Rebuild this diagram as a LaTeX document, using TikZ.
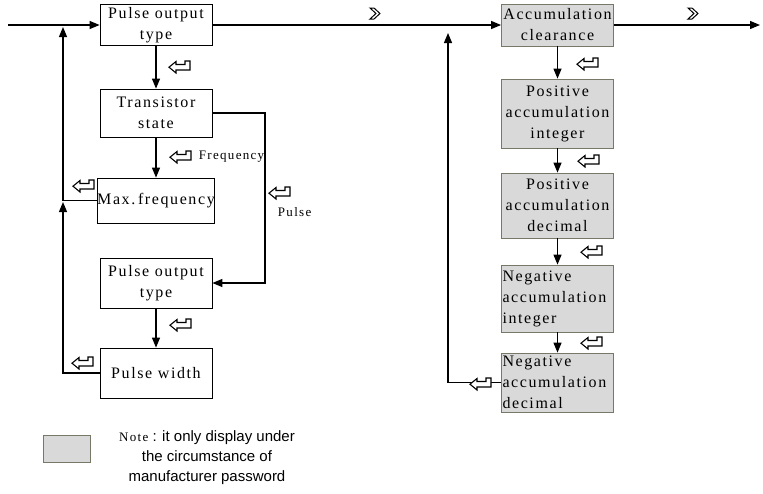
\documentclass[tikz,border=0pt]{standalone}
\usepackage{fontspec}
\setmainfont{Liberation Sans}
\newfontfamily\boxfont[LetterSpace=10]{Liberation Serif}
\usetikzlibrary{arrows.meta}

\definecolor{shade}{RGB}{217,217,217}
\definecolor{rim}{RGB}{120,120,105}

\tikzset{
  box/.style={draw, line width=0.8pt, minimum width=112pt, inner sep=1pt,
    align=center, font=\boxfont\fontsize{16}{21}\selectfont},
  gbox/.style={box, fill=shade, draw=rim},
  tag/.style={font=\boxfont\fontsize{13}{14}\selectfont},
  ret/.pic={\draw[line width=1.1pt, fill=white] (0,6.2) -- (7,0.5) -- (7,3.5) -- (16,3.5)
    -- (16,0) -- (21,0) -- (21,9) -- (7,9) -- (7,12) -- cycle;},
  nxt/.pic={\draw[line width=1pt, fill=white] (0,0) -- (4,0) -- (10,5.5) -- (4,11)
    -- (0,11) -- (6,5.5) -- cycle;}
}

\begin{document}
\begin{tikzpicture}[x=1pt, y=-1pt, line width=1.2pt, >={Triangle[length=10pt,width=8pt]}]
  \useasboundingbox (0,0) rectangle (763,493);

  % left column
  \node (pot1) [box, minimum height=41pt] at (156,25) {Pulse output\\type};
  \node (ts) [box, minimum height=48pt] at (156,113) {Transistor\\state};
  \node (mf) [box, minimum height=45pt, inner sep=0pt] at (156,200.5) {Max.\,frequency};
  \node (pot2) [box, minimum height=50pt] at (156,283) {Pulse output\\type};
  \node (pw) [box, minimum height=50pt] at (156,373) {Pulse width};

  % right column
  \node (acc) [gbox, minimum height=42pt] at (557.5,25) {Accumulation\\clearance};
  \node (pai) [gbox, minimum height=69pt] at (557.5,113.5) {Positive\\accumulation\\integer};
  \node (pad) [gbox, minimum height=65pt] at (557.5,205.5) {Positive\\accumulation\\decimal};
  \node (nai) [gbox, minimum height=67pt, align=left, text width=110pt] at (557.5,298.5) {Negative\\accumulation\\integer};
  \node (nad) [gbox, minimum height=59pt, align=left, text width=110pt] at (557.5,382.5) {Negative\\accumulation\\decimal};

  \coordinate (in) at (8,25);
  \coordinate (out) at (760,25);
  \coordinate (fb1) at (63,27);
  \coordinate (fb2) at (63,202);
  \coordinate (fb3) at (448,33);
  \coordinate (tsr) at (265,113);

  \draw[->] (in) -- (pot1);
  \draw[->] (pot1) -- (ts);
  \draw[->] (ts) -- (mf);
  \draw[->] (pot2) -- (pw);
  \draw[->] (ts.east) -- (tsr) |- (pot2.east);
  \draw[->] (mf.west) -| (fb1);
  \draw[->] (pw.west) -| (fb2);
  \draw[->] (pot1) -- (acc);
  \draw[->] (acc) -- (out);
  \draw[->] (acc) -- (pai);
  \draw[->] (pai) -- (pad);
  \draw[->] (pad) -- (nai);
  \draw[->] (nai) -- (nad);
  \draw[->] (nad.west) -| (fb3);

  % key symbols
  \pic at (169,61) {ret};
  \pic at (170,151) {ret};
  \pic at (73,180) {ret};
  \pic at (269,187) {ret};
  \pic at (170,319) {ret};
  \pic at (72,357) {ret};
  \pic at (577,58) {ret};
  \pic at (578,155) {ret};
  \pic at (581,246) {ret};
  \pic at (581,337) {ret};
  \pic at (470,378) {ret};
  \pic at (370,8) {nxt};
  \pic at (688,8) {nxt};

  \node (fq) [tag, anchor=west] at (195,157) {Frequency};
  \node (pl) [tag, anchor=west] at (274,212) {Pulse};

  % note
  \node (key) [draw=rim, fill=shade, line width=0.8pt, minimum width=47pt, minimum height=27pt] at (66.5,448.5) {};
  \node (note) [align=center, font=\fontsize{15}{20}\selectfont] at (207,458)
    {{\boxfont\fontsize{13}{14}\selectfont Note} : it only display under\\the circumstance of\\manufacturer password};
\end{tikzpicture}
\end{document}
